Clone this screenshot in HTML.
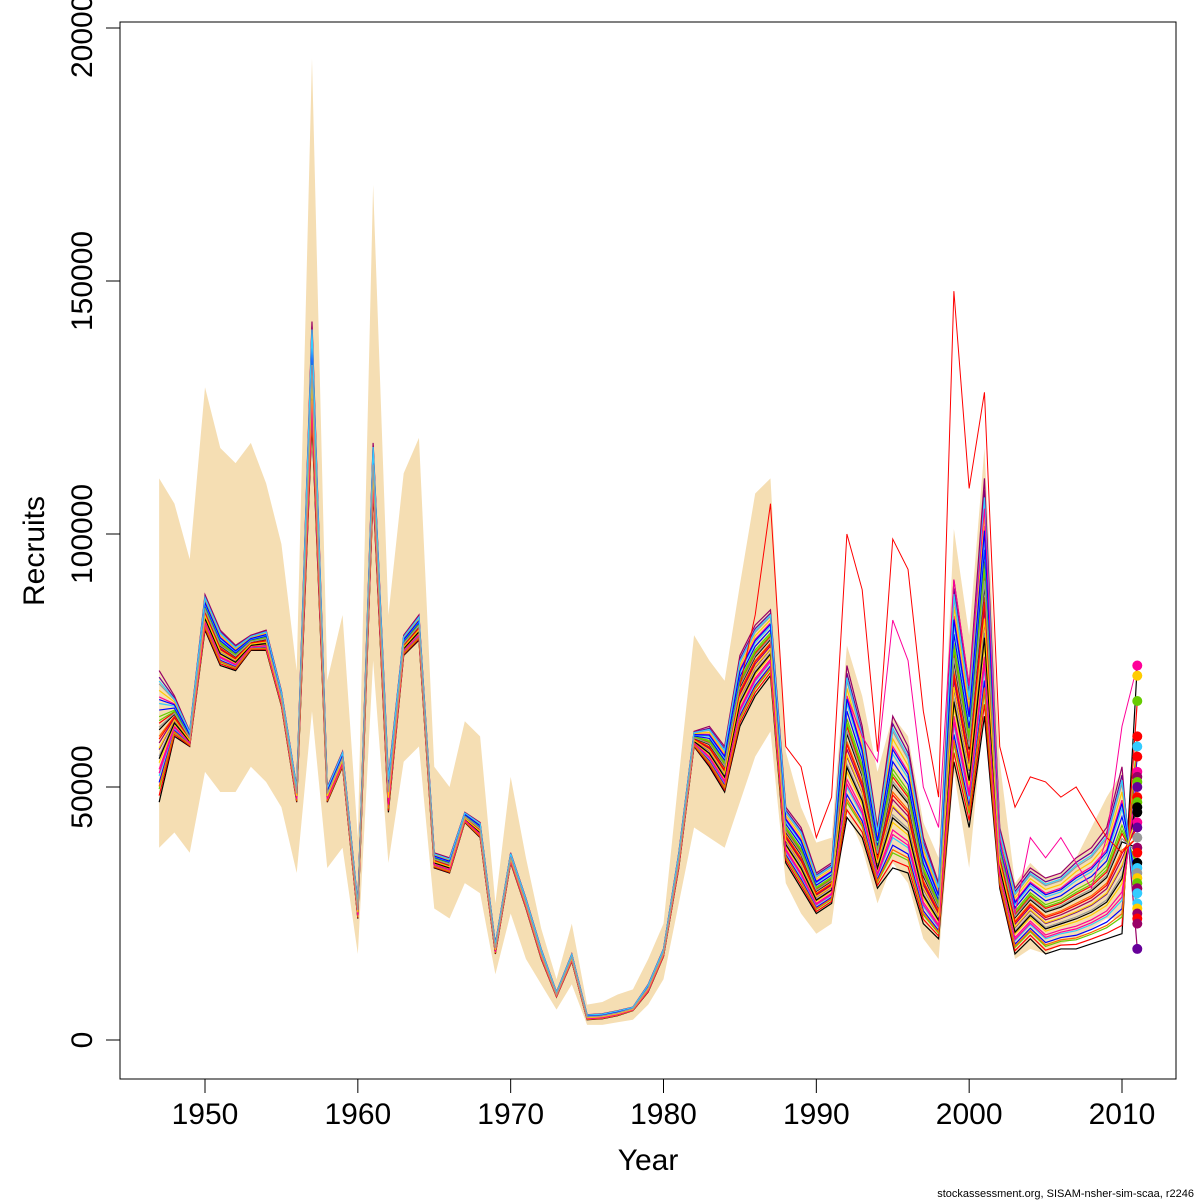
<!DOCTYPE html>
<html><head><meta charset="utf-8"><style>
html,body{margin:0;padding:0;background:#fff;}
svg{display:block;font-family:"Liberation Sans","DejaVu Sans",sans-serif;}
</style></head><body>
<svg id="chart" width="1200" height="1200" viewBox="0 0 1200 1200"></svg>
<script>
const years=[1947,1948,1949,1950,1951,1952,1953,1954,1955,1956,1957,1958,1959,1960,1961,1962,1963,1964,1965,1966,1967,1968,1969,1970,1971,1972,1973,1974,1975,1976,1977,1978,1979,1980,1981,1982,1983,1984,1985,1986,1987,1988,1989,1990,1991,1992,1993,1994,1995,1996,1997,1998,1999,2000,2001,2002,2003,2004,2005,2006,2007,2008,2009,2010];
const bandUpper=[111,106,95,129,117,114,118,110,98,73,194,71,84,40,169,84,112,119,54,50,63,60,27,52,36,22,12,23,7,7.5,9,10,16,23,52,80,75,71,90,108,111,57,46,39,40,78,68,53,64,60,43,36,101,80,117,55,31,35,32,33,36,42,48,53];
const bandLower=[38,41,37,53,49,49,54,51,46,33,65,34,38,17,75,35,55,58,26,24,31,29,13,25,16,11,6,11,3,3,3.5,4,7,12,27,42,40,38,47,56,61,31,25,21,23,45,38,27,35,31,20,16,53,34,66,30,16,18,17,19,20,22,24,24];
const lineLo=[47,60,58,81,74,73,77,77,66,47,122,47,54,24,108,45,76,79,34,33,43,40,17,35,26,16,8.5,15.5,4,4.2,4.8,5.8,9.5,16.5,34,58,54,49,62,68,72,35,30,25,27,44,40,30,34,33,23,20,55,42,64,30,17,20,17,18,18,19,20,21];
const lineHi=[73,68,61,88,81,78,80,81,69,50,142,50,57,27,118,52,80,84,37,36,45,43,19,37,28,18,9.5,17,5,5.2,5.8,6.5,11,18,37,61,62,58,76,82,85,46,42,33,35,74,62,42,64,58,40,31,91,70,111,42,30,34,32,33,36,38,42,54];
const endYear=2011;
const endPoints=[74,72,67,60,58,56,53,52,51,50,48,47,46,45,43,42,40,38,37,35,34,33,32,31,30,29,27,26,25,24,23,18];
const endColors=["#ff0099","#ffcc00","#66cc00","#ff0000","#33ccff","#ff0000","#ff0099","#990066","#66cc00","#660099","#ff0000","#66cc00","#000000","#000000","#ff0099","#660099","#999999","#990066","#ff0000","#000000","#33ccff","#999999","#ffcc00","#66cc00","#990066","#33ccff","#33ccff","#ffcc00","#990066","#ff0000","#990066","#660099"];
const outlierRedYears=[1985,1986,1987,1988,1989,1990,1991,1992,1993,1994,1995,1996,1997,1998,1999,2000,2001,2002,2003,2004,2005,2006,2007,2008,2009,2010,2011];
const outlierRed=[70,84,106,58,54,40,48,100,89,57,99,93,65,48,148,109,128,58,46,52,51,48,50,45,40,37,40];
const outlierMagYears=[1992,1993,1994,1995,1996,1997,1998,1999,2000,2001,2002,2003,2004,2005,2006,2007,2008,2009,2010,2011];
const outlierMag=[68,60,55,83,75,50,42,91,70,105,40,25,40,36,40,35,30,40,62,74];
const fractions=[0,0.05,0.1,0.15,0.2,0.25,0.3,0.35,0.4,0.45,0.5,0.55,0.6,0.65,0.7,0.75,0.8,0.85,0.9,0.95,1,0.12,0.33,0.48,0.62,0.78,0.92,0.22,0.41,0.57];
const lineColors=["#000000","#ff0000","#66cc00","#0000ff","#33ccff","#ff0099","#ffcc00","#999999","#660099","#990066","#ff6600"];

const NS="http://www.w3.org/2000/svg";
const svg=document.getElementById('chart');
const X=y=>205+(y-1950)*(1122-205)/60;
const Y=v=>1040-v*1000*(1040-787)/50000;
function mk(tag,attrs,parent){const e=document.createElementNS(NS,tag);for(const k in attrs)e.setAttribute(k,attrs[k]);(parent||svg).appendChild(e);return e;}

// band
let pts=years.map((y,i)=>X(y)+','+Y(bandUpper[i]));
pts=pts.concat(years.slice().reverse().map((y,j)=>{const i=years.length-1-j;return X(y)+','+Y(bandLower[i]);}));
const band=mk('polygon',{points:pts.join(' '),fill:'#f5deb3',stroke:'none'});



// spaghetti lines
const g=mk('g',{});


fractions.forEach((f,k)=>{
  const endV=endPoints[Math.round(f*(endPoints.length-1))];
  const p=years.map((y,i)=>X(y)+','+Y(lineLo[i]+f*(lineHi[i]-lineLo[i])));
  p.push(X(endYear)+','+Y(endV));
  const pl=mk('polyline',{points:p.join(' '),fill:'none',stroke:lineColors[k%lineColors.length],'stroke-width':1.2},g);
  
  
});
const r=mk('polyline',{points:outlierRedYears.map((y,i)=>X(y)+','+Y(outlierRed[i])).join(' '),fill:'none',stroke:'#ff0000','stroke-width':1});


const m=mk('polyline',{points:outlierMagYears.map((y,i)=>X(y)+','+Y(outlierMag[i])).join(' '),fill:'none',stroke:'#ff0099','stroke-width':1});



// end points
endPoints.forEach((v,i)=>{
  const c=mk('circle',{cx:X(endYear),cy:Y(v),r:5,fill:endColors[i]});
  
  
});

// frame
const fr=mk('rect',{x:120,y:22,width:1056,height:1057,fill:'none',stroke:'#000','stroke-width':1});



// x axis
const xTicks=[1950,1960,1970,1980,1990,2000,2010];
mk('line',{x1:X(1950),x2:X(2010),y1:1079,y2:1079,stroke:'#000'});
xTicks.forEach(t=>{
  mk('line',{x1:X(t),x2:X(t),y1:1079,y2:1093,stroke:'#000'});
  const tx=mk('text',{x:X(t),y:1124,'text-anchor':'middle','font-size':30});
  tx.textContent=t;
  
  
});
// y axis
const yTicks=[0,50000,100000,150000,200000];
yTicks.forEach(t=>{
  const yy=Y(t/1000);
  mk('line',{x1:106,x2:120,y1:yy,y2:yy,stroke:'#000'});
  const tx=mk('text',{x:0,y:0,'text-anchor':'middle','font-size':30,transform:`translate(92,${yy}) rotate(-90)`});
  tx.textContent=t;
  
  
});
mk('line',{x1:120,x2:120,y1:Y(0),y2:Y(200),stroke:'#000'});
const xt=mk('text',{x:648,y:1170,'text-anchor':'middle','font-size':30});
xt.textContent='Year';


const yt=mk('text',{x:0,y:0,'text-anchor':'middle','font-size':30,transform:'translate(44,551) rotate(-90)'});
yt.textContent='Recruits';


const ft=mk('text',{x:1194,y:1197,'text-anchor':'end','font-size':11});
ft.textContent='stockassessment.org, SISAM-nsher-sim-scaa, r2246';


</script>
</body></html>
